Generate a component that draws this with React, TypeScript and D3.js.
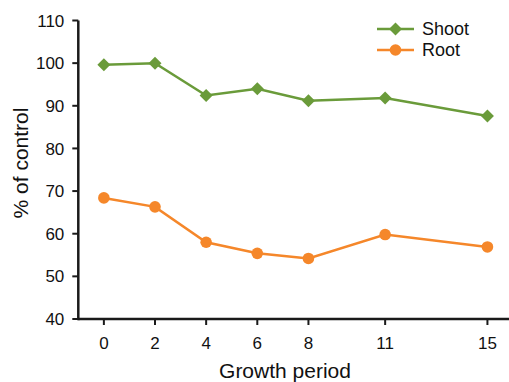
import React from 'react';
import * as d3 from 'd3';

// growth period (x) and % of control for each organ
const periods = [0, 2, 4, 6, 8, 11, 15];
const shoot = [99.6, 100.0, 92.4, 94.0, 91.2, 91.8, 87.6];
const root = [68.4, 66.3, 58.0, 55.4, 54.2, 59.8, 56.9];
const yTicks = [40, 50, 60, 70, 80, 90, 100, 110];

const W = 509;
const H = 382;
const green = '#6a9b3a';
const orange = '#f5872a';
const font = '"Liberation Sans", Arial, Helvetica, sans-serif';

export default function App() {
  const x = d3.scaleLinear().domain([-1, 16]).range([78.3, 513]);
  const y = d3.scaleLinear().domain([40, 110]).range([319, 20.5]);
  const line = d3
    .line<number>()
    .x((_, i) => x(periods[i]))
    .y((d) => y(d));

  const diamond = (cx: number, cy: number, r: number) =>
    `M${cx},${cy - r}L${cx + r},${cy}L${cx},${cy + r}L${cx - r},${cy}Z`;

  const series = [
    { name: 'Shoot', values: shoot, color: green, shape: 'diamond' },
    { name: 'Root', values: root, color: orange, shape: 'circle' },
  ];

  return (
    <svg
      width={W}
      height={H}
      style={{ position: 'absolute', left: 0, top: 0 }}
      fontFamily={font}
    >
      {/* axes */}
      <line x1={x(-1)} x2={x(-1)} y1={y(110)} y2={y(40) + 1.25} stroke="#1a1a1a" strokeWidth={2.5} />
      <line x1={x(-1)} x2={W} y1={y(40)} y2={y(40)} stroke="#1a1a1a" strokeWidth={2.5} />
      {yTicks.map((t) => (
        <g key={t}>
          <line x1={x(-1) - 6} x2={x(-1)} y1={y(t)} y2={y(t)} stroke="#1a1a1a" strokeWidth={2} />
          <text x={x(-1) - 14} y={y(t)} dy="0.36em" textAnchor="end" fontSize={17} fill="#111">
            {t}
          </text>
        </g>
      ))}
      {periods.map((p) => (
        <g key={p}>
          <line x1={x(p)} x2={x(p)} y1={y(40)} y2={y(40) + 6} stroke="#1a1a1a" strokeWidth={2} />
          <text x={x(p)} y={343} dy="0.36em" textAnchor="middle" fontSize={17} fill="#111">
            {p}
          </text>
        </g>
      ))}
      <text x={285} y={378} textAnchor="middle" fontSize={21} fill="#111">
        Growth period
      </text>
      <text
        transform={`translate(20,163) rotate(-90)`}
        dy="0.36em"
        textAnchor="middle"
        fontSize={21}
        fill="#111"
      >
        % of control
      </text>

      {/* series */}
      {series.map((s) => (
        <g key={s.name}>
          <path d={line(s.values) || ''} fill="none" stroke={s.color} strokeWidth={2.5} />
          {s.values.map((v, i) =>
            s.shape === 'diamond' ? (
              <path key={i} d={diamond(x(periods[i]), y(v), 6.5)} fill={s.color} />
            ) : (
              <circle key={i} cx={x(periods[i])} cy={y(v)} r={5.8} fill={s.color} />
            )
          )}
        </g>
      ))}

      {/* legend */}
      {series.map((s, i) => {
        const ly = 29 + i * 21;
        return (
          <g key={s.name}>
            <line x1={377} x2={414} y1={ly} y2={ly} stroke={s.color} strokeWidth={2.5} />
            {s.shape === 'diamond' ? (
              <path d={diamond(395.5, ly, 6.5)} fill={s.color} />
            ) : (
              <circle cx={395.5} cy={ly} r={5.8} fill={s.color} />
            )}
            <text x={422} y={ly} dy="0.36em" fontSize={18} fill="#111">
              {s.name}
            </text>
          </g>
        );
      })}
    </svg>
  );
}
